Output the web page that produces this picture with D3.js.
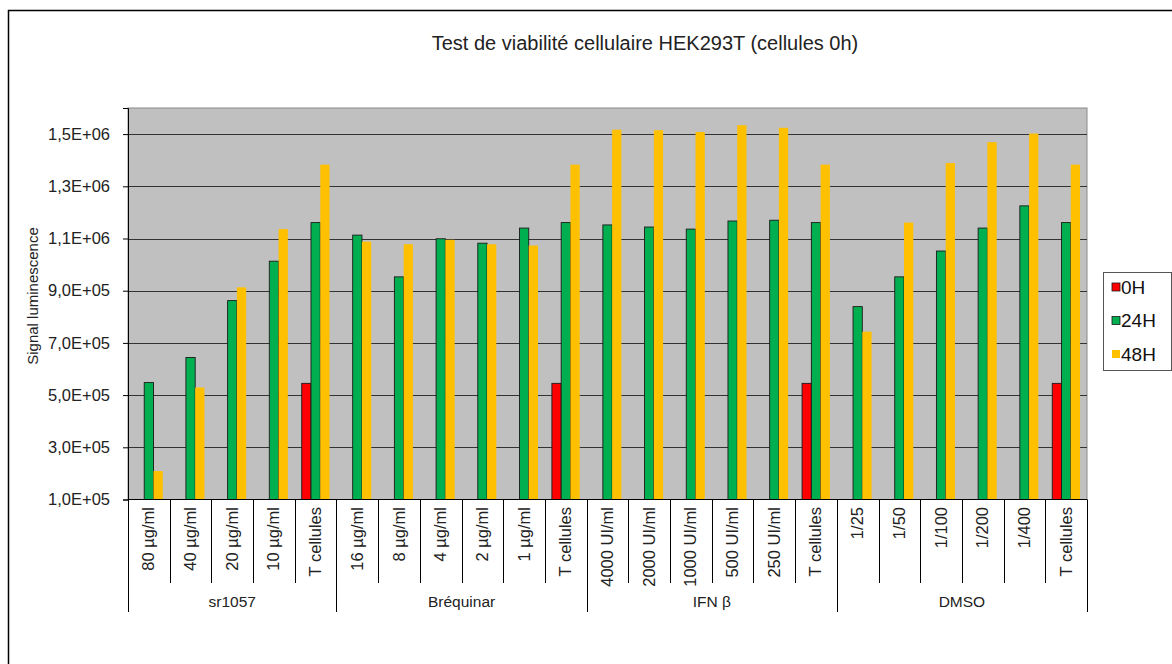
<!DOCTYPE html>
<html>
<head>
<meta charset="utf-8">
<script src="https://cdn.jsdelivr.net/npm/d3@7"></script>
<style>
  html, body { margin: 0; padding: 0; background: #fff; }
  svg { display: block; font-family: "Liberation Sans", Arial, sans-serif; }
</style>
</head>
<body>
<svg id="chart" width="1172" height="664"></svg>
<script>
// Treatment conditions (inner axis level) and their groups (outer axis level)
const categories = [
  "80 µg/ml", "40 µg/ml", "20 µg/ml", "10 µg/ml", "T cellules",
  "16 µg/ml", "8 µg/ml", "4 µg/ml", "2 µg/ml", "1 µg/ml", "T cellules",
  "4000 UI/ml", "2000 UI/ml", "1000 UI/ml", "500 UI/ml", "250 UI/ml", "T cellules",
  "1/25", "1/50", "1/100", "1/200", "1/400", "T cellules"
];
const groupNames = ["sr1057", "Bréquinar", "IFN β", "DMSO"];
const groupSizes = [5, 6, 6, 6];

const seriesNames = ["0H", "24H", "48H"];
const seriesColors = ["#ff0000", "#00b050", "#ffc000"];

// Luminescence signal per condition
const values0H = [
  null, null, null, null, 545000,
  null, null, null, null, null, 545000,
  null, null, null, null, null, 545000,
  null, null, null, null, null, 545000
];
const values24H = [
  548000, 644000, 862000, 1013000, 1161000,
  1113000, 953000, 1099000, 1082000, 1140000, 1161000,
  1152000, 1144000, 1136000, 1167000, 1170000, 1161000,
  839000, 953000, 1052000, 1140000, 1225000, 1161000
];
const values48H = [
  209000, 529000, 913000, 1136000, 1383000,
  1088000, 1078000, 1095000, 1078000, 1073000, 1383000,
  1517000, 1515000, 1508000, 1534000, 1524000, 1383000,
  743000, 1161000, 1389000, 1469000, 1502000, 1383000
];
const yTicks = [100000, 300000, 500000, 700000, 900000, 1100000, 1300000, 1500000];

const series = [values0H, values24H, values48H];

const svg = d3.select("#chart");
const plot = { left: 128, right: 1087, top: 108, bottom: 499.5 };

// Outer chart frame (runs past the right and bottom edges)
svg.append("rect")
  .attr("x", 8.5).attr("y", 10.5)
  .attr("width", 1200).attr("height", 700)
  .attr("fill", "none").attr("stroke", "#000").attr("stroke-width", 1.5);

const x0 = d3.scaleBand().domain(d3.range(categories.length))
  .range([plot.left, plot.right]).paddingInner(0).paddingOuter(0);
const bw = x0.bandwidth();
const gap = bw * 0.75 / 4.5;
const x1 = d3.scaleBand().domain(seriesNames).range([gap, bw - gap]);

const y = d3.scaleLinear().domain([100000, 1600000]).range([plot.bottom, plot.top]);

// Plot area background
svg.append("rect")
  .attr("x", plot.left).attr("y", plot.top)
  .attr("width", plot.right - plot.left).attr("height", plot.bottom - plot.top)
  .attr("fill", "#c0c0c0").attr("stroke", "#8a8a8a").attr("stroke-width", 1);

// Horizontal gridlines
svg.append("g").selectAll("line").data(yTicks.slice(1)).join("line")
  .attr("x1", plot.left).attr("x2", plot.right)
  .attr("y1", d => Math.round(y(d)) + 0.5).attr("y2", d => Math.round(y(d)) + 0.5)
  .attr("stroke", "#333").attr("stroke-width", 1);

// Bars
series.forEach((vals, si) => {
  svg.append("g").selectAll("rect")
    .data(vals.map((v, i) => ({ v, i })).filter(d => d.v != null))
    .join("rect")
    .attr("x", d => x0(d.i) + x1(seriesNames[si]))
    .attr("y", d => y(d.v))
    .attr("width", x1.bandwidth())
    .attr("height", d => plot.bottom - y(d.v))
    .attr("fill", seriesColors[si])
    .attr("stroke", si === 2 ? "none" : "#1a1a1a")
    .attr("stroke-width", si === 2 ? 0 : 0.9);
});

// Y axis
const fmt = d => {
  const e = Math.floor(Math.log10(d));
  const m = (d / Math.pow(10, e)).toFixed(1).replace(".", ",");
  return m + "E+" + String(e).padStart(2, "0");
};
const yAxis = svg.append("g")
  .attr("transform", `translate(${plot.left},0)`)
  .call(d3.axisLeft(y).tickValues(yTicks).tickFormat(fmt).tickSize(5).tickPadding(13));
yAxis.select(".domain").attr("stroke", "#000");
yAxis.selectAll(".tick line").attr("stroke", "#000");
yAxis.selectAll("text").attr("font-size", 16.5).attr("fill", "#222")
  .attr("font-family", "'Liberation Sans', Arial, sans-serif");

// Bottom axis line
svg.append("line")
  .attr("x1", plot.left).attr("x2", plot.right)
  .attr("y1", plot.bottom).attr("y2", plot.bottom)
  .attr("stroke", "#000").attr("stroke-width", 1);

// Multi-level category axis: dividers
const groupStarts = [];
let acc = 0;
groupSizes.forEach(n => { groupStarts.push(acc); acc += n; });
const boundaries = d3.range(categories.length + 1);
const groupEdges = new Set([...groupStarts, categories.length]);
svg.append("g").selectAll("line").data(boundaries).join("line")
  .attr("x1", i => Math.round(i < categories.length ? x0(i) : plot.right) + 0.5)
  .attr("x2", i => Math.round(i < categories.length ? x0(i) : plot.right) + 0.5)
  .attr("y1", plot.bottom)
  .attr("y2", i => groupEdges.has(i) ? 612 : 583)
  .attr("stroke", "#000").attr("stroke-width", 1);

// Inner labels (rotated)
svg.append("g").selectAll("text").data(categories).join("text")
  .attr("transform", (d, i) => `translate(${x0(i) + bw / 2 + 5.5},507) rotate(-90)`)
  .attr("text-anchor", "end")
  .attr("font-size", 16.5).attr("fill", "#222")
  .text(d => d);

// Outer group labels
svg.append("g").selectAll("text").data(groupNames).join("text")
  .attr("x", (d, gi) => {
    const a = x0(groupStarts[gi]);
    const b = x0(groupStarts[gi]) + groupSizes[gi] * bw;
    return (a + b) / 2;
  })
  .attr("y", 607)
  .attr("text-anchor", "middle")
  .attr("font-size", 15.5).attr("fill", "#222")
  .text(d => d);

// Title
svg.append("text")
  .attr("x", 645).attr("y", 50)
  .attr("text-anchor", "middle")
  .attr("font-size", 20).attr("fill", "#222")
  .text("Test de viabilité cellulaire HEK293T (cellules 0h)");

// Y axis title
svg.append("text")
  .attr("transform", "translate(38,296) rotate(-90)")
  .attr("text-anchor", "middle")
  .attr("font-size", 15).attr("fill", "#222")
  .text("Signal luminescence");

// Legend
const legend = svg.append("g");
legend.append("rect")
  .attr("x", 1103.5).attr("y", 272.5).attr("width", 68).attr("height", 98)
  .attr("fill", "#fff").attr("stroke", "#555").attr("stroke-width", 1);
seriesNames.forEach((s, i) => {
  const cy = 287 + i * 33.5;
  legend.append("rect")
    .attr("x", 1112).attr("y", cy - 4).attr("width", 8).attr("height", 8)
    .attr("fill", seriesColors[i])
    .attr("stroke", i === 2 ? "none" : "#1a1a1a").attr("stroke-width", 0.8);
  legend.append("text")
    .attr("x", 1121).attr("y", cy).attr("dy", "0.36em")
    .attr("font-size", 19).attr("fill", "#111")
    .text(s);
});
</script>
</body>
</html>
